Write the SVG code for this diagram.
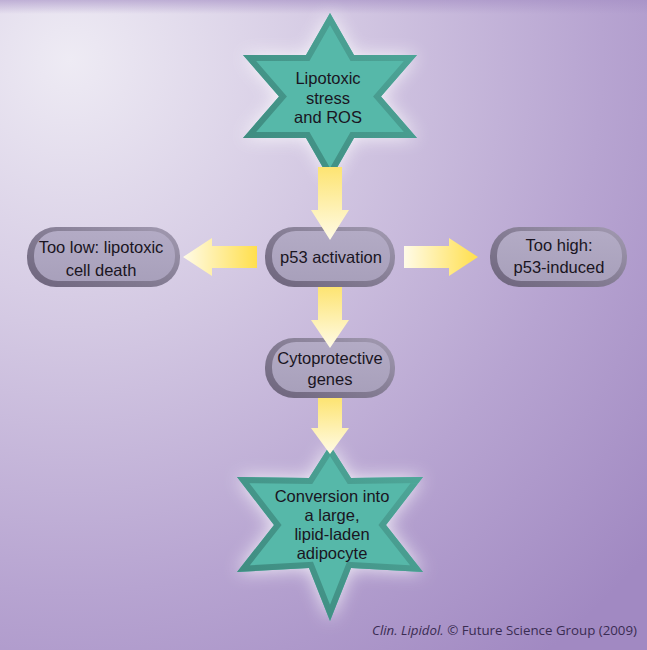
<svg xmlns="http://www.w3.org/2000/svg" width="647" height="650" viewBox="0 0 647 650">
<defs>
<radialGradient id="bg" cx="70" cy="60" r="760" gradientUnits="userSpaceOnUse">
<stop offset="0" stop-color="#eeebf4"/>
<stop offset="0.35" stop-color="#d4c9e3"/>
<stop offset="0.7" stop-color="#b7a4d1"/>
<stop offset="1" stop-color="#a189c2"/>
</radialGradient>
<linearGradient id="edgeTop" x1="0" y1="0" x2="0" y2="1">
<stop offset="0" stop-color="#a48ec4" stop-opacity="0.6"/>
<stop offset="1" stop-color="#a48ec4" stop-opacity="0"/>
</linearGradient>
<linearGradient id="vArrow" x1="0" y1="0" x2="0" y2="1">
<stop offset="0" stop-color="#fde472"/>
<stop offset="1" stop-color="#fffbe6"/>
</linearGradient>
<linearGradient id="hArrow" x1="0" y1="0" x2="1" y2="0">
<stop offset="0" stop-color="#fffbe8"/>
<stop offset="1" stop-color="#ffdf4c"/>
</linearGradient>
<linearGradient id="boxRim" x1="1" y1="0" x2="0" y2="1">
<stop offset="0" stop-color="#a39bb2"/>
<stop offset="0.5" stop-color="#857d94"/>
<stop offset="1" stop-color="#6d647c"/>
</linearGradient>
<linearGradient id="boxFace" x1="0" y1="0" x2="0" y2="1">
<stop offset="0" stop-color="#b3abc5"/>
<stop offset="1" stop-color="#a8a0bb"/>
</linearGradient>
<linearGradient id="starRim" x1="1" y1="0" x2="0" y2="1">
<stop offset="0" stop-color="#50a99b"/>
<stop offset="1" stop-color="#3c887d"/>
</linearGradient>
<filter id="glow" x="-30%" y="-30%" width="160%" height="160%">
<feGaussianBlur stdDeviation="9"/>
</filter>
<path id="star1" d="M330,13 L354,55 L417,55 L381,96.5 L417,138 L354,138 L330,180 L306,138 L243,138 L279,96.5 L243,55 L306,55 Z"/>
<path id="star2" d="M330,445 L351,478 L423,477 L386,525 L423,572 L351,568 L330,621 L309,568 L237,572 L274,525 L237,477 L309,478 Z"/>
<clipPath id="c1"><use href="#star1"/></clipPath>
<clipPath id="c2"><use href="#star2"/></clipPath>
</defs>
<style>
.rim{fill:url(#boxRim)}
.face{fill:url(#boxFace)}
.lbl{font-family:"Liberation Sans",Arial,Helvetica,sans-serif;font-size:16.5px;fill:#1a1522;text-anchor:middle}
.sface{fill:#56b8a9}
.srim{fill:none;stroke:url(#starRim);stroke-width:12;stroke-linejoin:miter;stroke-miterlimit:10}
.halo{fill:#ffffff;opacity:0.8;filter:url(#glow)}
.va{fill:url(#vArrow)}
.ha{fill:url(#hArrow)}
.credit{font-family:"Open Sans","Noto Sans",sans-serif;font-size:13.3px;fill:#3a2c52}
</style>
<rect x="0" y="0" width="647" height="650" fill="url(#bg)"/>
<rect x="0" y="0" width="647" height="14" fill="url(#edgeTop)"/>

<g id="node-lipotoxic-stress">
<use href="#star1" class="halo"/>
<use href="#star1" class="sface"/>
<use href="#star1" class="srim" clip-path="url(#c1)"/>
<text class="lbl"><tspan x="328" y="84">Lipotoxic</tspan><tspan x="328" y="103.5">stress</tspan><tspan x="328" y="123">and ROS</tspan></text>
</g>

<g id="node-too-low">
<rect class="rim" x="27" y="227" width="153" height="60" rx="29"/>
<rect class="face" x="34" y="231" width="141" height="50" rx="24"/>
<text class="lbl"><tspan x="101" y="253">Too low: lipotoxic</tspan><tspan x="101" y="275.5">cell death</tspan></text>
</g>

<g id="node-p53">
<rect class="rim" x="265" y="227" width="130" height="60" rx="29"/>
<rect class="face" x="272" y="231" width="118" height="50" rx="24"/>
<text class="lbl" x="331" y="263">p53 activation</text>
</g>

<g id="node-too-high">
<rect class="rim" x="490" y="227" width="137" height="60" rx="29"/>
<rect class="face" x="497" y="231" width="125" height="50" rx="24"/>
<text class="lbl"><tspan x="559" y="251">Too high:</tspan><tspan x="559" y="273">p53-induced</tspan></text>
</g>

<g id="node-cytoprotective">
<rect class="rim" x="265" y="338" width="130" height="60" rx="29"/>
<rect class="face" x="272" y="342" width="118" height="50" rx="24"/>
<text class="lbl"><tspan x="330" y="364">Cytoprotective</tspan><tspan x="330" y="385">genes</tspan></text>
</g>

<g id="node-adipocyte">
<use href="#star2" class="halo"/>
<use href="#star2" class="sface"/>
<use href="#star2" class="srim" clip-path="url(#c2)"/>
<text class="lbl"><tspan x="332" y="502">Conversion into</tspan><tspan x="332" y="521">a large,</tspan><tspan x="332" y="540">lipid-laden</tspan><tspan x="332" y="559">adipocyte</tspan></text>
</g>

<g id="connectors">
<path class="va" d="M318,167 H342 V210 H349 L330,240 L311,210 H318 Z"/>
<path class="ha" d="M257,246 V268 H212 V276 L183,257 L212,238 V246 Z"/>
<path class="ha" d="M404,246 H449 V238 L478,257 L449,276 V268 H404 Z"/>
<path class="va" d="M318,287 H342 V320 H349 L330,348 L311,320 H318 Z"/>
<path class="va" d="M318,398 H342 V428 H349 L330,454 L311,428 H318 Z"/>
</g>

<text class="credit" x="637" y="635" text-anchor="end"><tspan font-style="italic">Clin. Lipidol.</tspan> © Future Science Group (2009)</text>
</svg>
